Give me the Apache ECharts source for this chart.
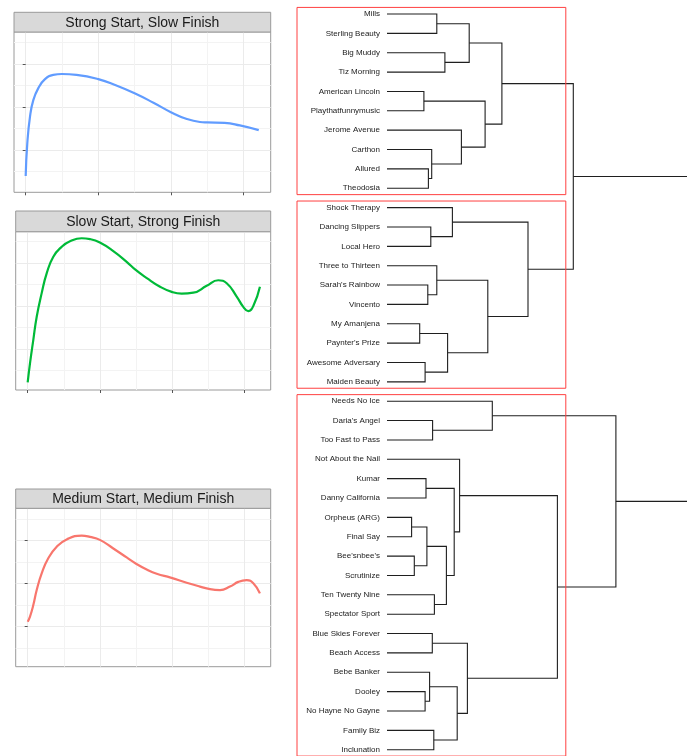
<!DOCTYPE html>
<html>
<head>
<meta charset="utf-8">
<script src="https://cdn.jsdelivr.net/npm/echarts@6/dist/echarts.min.js"></script>
<style>
  html, body { margin: 0; padding: 0; background: #ffffff; }
  #chart { width: 687px; height: 756px; }
</style>
</head>
<body>
<div id="chart"></div>
<script>
// ---- Pace profiles (race position vs. speed), one smoothed curve per cluster ----
const strongSlowX = [0, 0.22, 0.59, 1.05, 1.74, 2.66, 3.8, 5.0, 7.0, 10.0, 12.5, 15.0, 17.6, 20.0, 22.2, 24.0, 25.0, 27.4, 29.5, 32.1];
const strongSlowY = [3.9, 11.5, 17.7, 21.6, 24.4, 26.5, 27.5, 27.7, 27.5, 26.5, 25.0, 23.2, 21.0, 18.8, 17.2, 16.5, 16.4, 16.3, 15.7, 14.6];

const slowStrongX = [0, 0.32, 0.78, 1.25, 1.94, 2.63, 3.55, 4.71, 5.86, 7.48, 8.63, 10.0, 11.86, 13.71, 14.96, 16.5, 18.33, 19.95, 21.33, 22.94, 24.79, 26.4, 27.57, 28.95, 29.86, 30.55, 31.25, 32.17];
const slowStrongY = [2.2, 6.6, 12.1, 17.5, 23.0, 27.6, 31.5, 33.8, 35.1, 35.8, 35.6, 34.8, 32.8, 30.3, 28.4, 26.5, 24.5, 23.3, 22.9, 23.1, 24.7, 26.0, 25.3, 22.2, 19.8, 18.8, 20.0, 24.5];

const mediumX = [0, 0.32, 0.78, 1.25, 1.94, 2.85, 4.02, 5.4, 7.48, 8.63, 10.0, 11.86, 13.71, 14.96, 16.48, 17.87, 19.8, 22.02, 23.86, 25.25, 26.64, 28.02, 29.17, 30.33, 31.25, 32.17];
const mediumY = [11.1, 12.3, 15.0, 18.5, 22.4, 25.9, 28.6, 30.3, 31.2, 30.9, 30.2, 28.2, 26.1, 24.7, 23.3, 22.3, 21.4, 20.2, 19.3, 18.7, 18.5, 19.3, 20.4, 20.8, 20.1, 17.7];

const xTicks = [0, 10, 20, 30];
const xMinorTicks = [5, 15, 25];
const yTicks = [10, 20, 30];
const yMinorTicks = [5, 15, 25, 35];

// ---- Hierarchical clustering of the horses ----
const leafNames = [
  'Mills', 'Sterling Beauty', 'Big Muddy', 'Tiz Morning', 'American Lincoln',
  'Playthatfunnymusic', 'Jerome Avenue', 'Carthon', 'Allured', 'Theodosia',
  'Shock Therapy', 'Dancing Slippers', 'Local Hero', 'Three to Thirteen', "Sarah's Rainbow",
  'Vincento', 'My Amanjena', "Paynter's Prize", 'Awesome Adversary', 'Maiden Beauty',
  'Needs No Ice', "Daria's Angel", 'Too Fast to Pass', 'Not About the Nail', 'Kumar',
  'Danny California', 'Orpheus (ARG)', 'Final Say', "Bee'snbee's", 'Scrutinize',
  'Ten Twenty Nine', 'Spectator Sport', 'Blue Skies Forever', 'Beach Access', 'Bebe Banker',
  'Dooley', 'No Hayne No Gayne', 'Family Biz', 'Inclunation'
];

// hclust-style merge table: -j is leaf j (1-based), k is merge row k
const mergePairs = [
  [-27, -28], [-29, -30], [-17, -18], [-5, -6], [-19, -20],
  [-36, -37], [-25, -26], [1, 2], [-15, -16], [-9, -10],
  [-35, 6], [-12, -13], [-8, 10], [-33, -34], [-22, -23],
  [-38, -39], [-31, -32], [-1, -2], [-14, 9], [-3, -4],
  [8, 17], [3, 5], [-11, 12], [7, 21], [11, 16],
  [-24, 24], [-7, 13], [14, 25], [18, 20], [4, 27],
  [19, 22], [-21, 15], [29, 30], [23, 31], [26, 28],
  [33, 34], [32, 35], [36, 37]
];
const mergeHeights = [
  0.82, 0.91, 1.09, 1.23, 1.27,
  1.27, 1.30, 1.33, 1.36, 1.38,
  1.42, 1.46, 1.49, 1.51, 1.52,
  1.56, 1.58, 1.66, 1.66, 1.93,
  1.98, 2.02, 2.18, 2.24, 2.34,
  2.42, 2.48, 2.68, 2.74, 3.27,
  3.36, 3.51, 3.83, 4.70, 5.68,
  6.21, 7.63, 11.5
];

// highlighted clusters (first and last leaf, 1-based) and the cut height of their boxes
const clusterRanges = [[1, 10], [11, 20], [21, 39]];
const cutHeight = 5.96;

// ---------------------------------------------------------------------------
const FONT = '"Liberation Sans", Arial, Helvetica, sans-serif';

const panels = [
  { title: 'Strong Start, Slow Finish', xs: strongSlowX, ys: strongSlowY, color: '#619CFF',
    box: { left: 14, top: 32, width: 256.7, height: 160.3 }, strip: { top: 12.3 },
    xRange: [-1.61, 33.75], yRange: [0.10, 37.5], showXTicks: true, showYTicks: true },
  { title: 'Slow Start, Strong Finish', xs: slowStrongX, ys: slowStrongY, color: '#00BA38',
    box: { left: 15.7, top: 231.7, width: 255, height: 158.3 }, strip: { top: 211 },
    xRange: [-1.66, 33.66], yRange: [0.40, 37.33], showXTicks: true, showYTicks: false },
  { title: 'Medium Start, Medium Finish', xs: mediumX, ys: mediumY, color: '#F8766D',
    box: { left: 15.7, top: 508.3, width: 255, height: 158.4 }, strip: { top: 489 },
    xRange: [-1.66, 33.66], yRange: [0.61, 37.57], showXTicks: false, showYTicks: true }
];

const grids = [], xAxes = [], yAxes = [], series = [], graphics = [];

panels.forEach((p, i) => {
  grids.push({
    left: p.box.left, top: p.box.top, width: p.box.width, height: p.box.height,
    show: true, borderColor: '#9a9a9a', borderWidth: 1, backgroundColor: '#ffffff'
  });
  const common = { type: 'value', gridIndex: i, axisLine: { show: false }, axisLabel: { show: false } };
  // minor grid lines
  xAxes.push(Object.assign({}, common, {
    min: p.xRange[0], max: p.xRange[1], position: 'bottom',
    axisTick: { show: false, customValues: xMinorTicks },
    splitLine: { show: true, lineStyle: { color: '#f3f3f3', width: 1 } }
  }));
  // major grid lines and tick marks
  xAxes.push(Object.assign({}, common, {
    min: p.xRange[0], max: p.xRange[1], position: 'bottom',
    axisTick: { show: p.showXTicks, customValues: xTicks, length: 3, lineStyle: { color: '#555', width: 1 } },
    splitLine: { show: true, lineStyle: { color: '#ebebeb', width: 1 } }
  }));
  yAxes.push(Object.assign({}, common, {
    min: p.yRange[0], max: p.yRange[1], position: 'left',
    axisTick: { show: false, customValues: yMinorTicks },
    splitLine: { show: true, lineStyle: { color: '#f3f3f3', width: 1 } }
  }));
  yAxes.push(Object.assign({}, common, {
    min: p.yRange[0], max: p.yRange[1], position: 'left',
    axisTick: { show: p.showYTicks, customValues: yTicks, length: 3, lineStyle: { color: '#555', width: 1 } },
    splitLine: { show: true, lineStyle: { color: '#ebebeb', width: 1 } }
  }));
  series.push({
    type: 'line', xAxisIndex: 2 * i + 1, yAxisIndex: 2 * i + 1,
    data: p.xs.map((x, j) => [x, p.ys[j]]),
    smooth: 0.5, showSymbol: false, symbol: 'none',
    lineStyle: { color: p.color, width: 2.2 }, silent: true, z: 3
  });
  // facet strip with the cluster name
  const stripH = p.box.top - p.strip.top;
  graphics.push({
    type: 'rect', silent: true, z: 10,
    shape: { x: p.box.left, y: p.strip.top, width: p.box.width, height: stripH },
    style: { fill: '#d9d9d9', stroke: '#9a9a9a', lineWidth: 1 }
  });
  graphics.push({
    type: 'text', silent: true, z: 11,
    style: {
      text: p.title, x: p.box.left + p.box.width / 2, y: p.strip.top + stripH / 2 + 0.5,
      textAlign: 'center', textVerticalAlign: 'middle', align: 'center', verticalAlign: 'middle',
      font: '14px ' + FONT, fill: '#1a1a1a'
    }
  });
});

// ---- dendrogram ----
const merged = [];
function nodeOf(ref) {
  return ref < 0 ? { pos: -ref, h: 0 } : merged[ref - 1];
}
mergePairs.forEach((pair, k) => {
  const a = nodeOf(pair[0]);
  const b = nodeOf(pair[1]);
  merged.push({ pos: (a.pos + b.pos) / 2, h: mergeHeights[k], a: a, b: b });
});
const branchData = merged.map(m => [m.a.h, m.a.pos, m.h, m.b.pos, m.b.h]);

const dg = grids.length;
grids.push({ left: 387, top: 14, width: 300, height: 735.7, show: false });
const dx = xAxes.length;
xAxes.push({ type: 'value', gridIndex: dg, min: 0, max: 10, show: false });
yAxes.push({
  type: 'category', gridIndex: dg, data: leafNames, inverse: true, boundaryGap: false,
  axisLine: { show: false }, axisTick: { show: false }, splitLine: { show: false },
  axisLabel: { show: true, interval: 0, fontSize: 8, margin: 7, color: '#222', fontFamily: FONT }
});
const dy = yAxes.length;
yAxes.push({ type: 'value', gridIndex: dg, min: 1, max: leafNames.length, inverse: true, show: false });

series.push({
  type: 'custom', xAxisIndex: dx, yAxisIndex: dy, silent: true, z: 4,
  encode: { x: [0, 2, 4], y: [1, 3] },
  data: branchData,
  renderItem: function (params, api) {
    const pts = [
      api.coord([api.value(0), api.value(1)]),
      api.coord([api.value(2), api.value(1)]),
      api.coord([api.value(2), api.value(3)]),
      api.coord([api.value(4), api.value(3)])
    ];
    return { type: 'polyline', shape: { points: pts }, style: { stroke: '#1f1f1f', lineWidth: 1.1, fill: null } };
  }
});

// boxes around the highlighted clusters, from the label margin to the cut height
const boxLeft = -3;
series.push({
  type: 'custom', xAxisIndex: dx, yAxisIndex: dy, silent: true, z: 5,
  encode: { x: 2, y: [0, 1] },
  data: clusterRanges.map(r => [r[0], r[1], cutHeight]),
  renderItem: function (params, api) {
    const p0 = api.coord([boxLeft, api.value(0) - 0.34]);
    const p1 = api.coord([api.value(2), api.value(1) + 0.33]);
    return {
      type: 'rect',
      shape: { x: p0[0], y: p0[1], width: p1[0] - p0[0], height: p1[1] - p0[1] },
      style: { stroke: '#ff4040', lineWidth: 1, fill: null }
    };
  }
});

const chart = echarts.init(document.getElementById('chart'), null, { renderer: 'canvas' });
chart.setOption({
  animation: false,
  backgroundColor: '#ffffff',
  grid: grids,
  xAxis: xAxes,
  yAxis: yAxes,
  series: series,
  graphic: { elements: graphics }
});
</script>
</body>
</html>
